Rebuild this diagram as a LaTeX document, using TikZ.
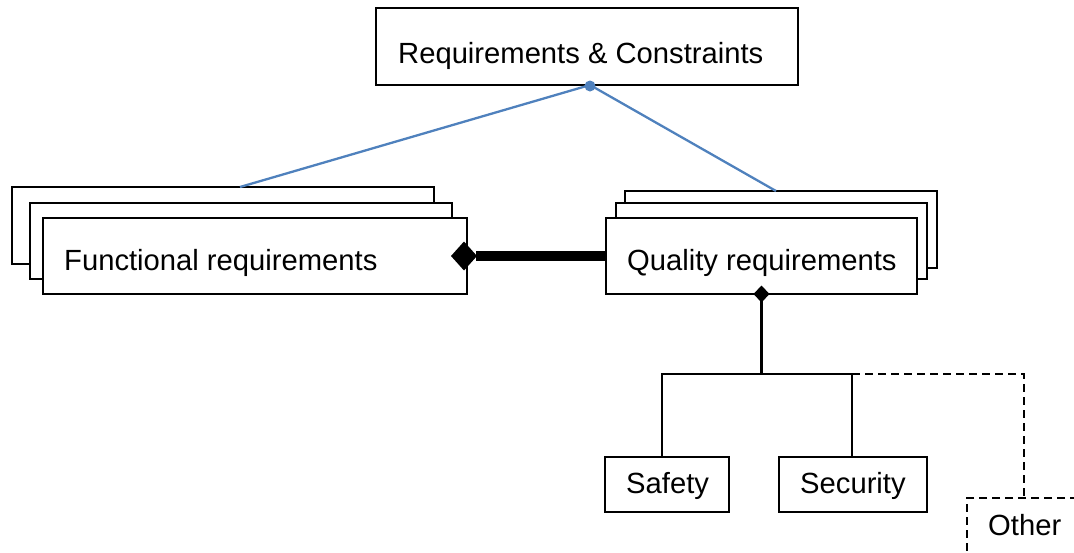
\documentclass[tikz,border=0pt]{standalone}
\usepackage{fontspec}
\setmainfont{Liberation Sans}
\usetikzlibrary{calc}
\definecolor{blueln}{RGB}{79,129,189}
\begin{document}
\begin{tikzpicture}[x=1pt,y=-1pt,
  box/.style={draw=black, line width=2.2pt, fill=white, rectangle, inner sep=0pt, outer sep=0pt},
  dbox/.style={box, dash pattern=on 8pt off 5pt, line width=1.7pt},
  lbl/.style={inner sep=0pt, font=\fontsize{29.2}{34}\selectfont},
  blueline/.style={draw=blueln, line width=2.3pt},
  tree/.style={line width=2.6pt},
  dashedline/.style={line width=1.7pt, dash pattern=on 8pt off 5pt}]
\useasboundingbox (0,0) rectangle (1074,552);
\clip (0,0) rectangle (1074,552);

% top box
\node[box, minimum width=422, minimum height=77, anchor=north west] (rc) at (376,8) {};
\node[lbl, anchor=base west] (rcl) at (398,63) {Requirements \& Constraints};

% functional stack
\node[box, minimum width=422, minimum height=77, anchor=north west] (fb3) at (12,187) {};
\node[box, minimum width=422, minimum height=76, anchor=north west] (fb2) at (30,203) {};
\node[box, minimum width=424, minimum height=76, anchor=north west] (fr) at (43,218) {};
\node[lbl, anchor=base west] (frl) at (64,270) {Functional requirements};

% quality stack
\node[box, minimum width=312, minimum height=77, anchor=north west] (qb3) at (625,191) {};
\node[box, minimum width=311, minimum height=76, anchor=north west] (qb2) at (616,203) {};
\node[box, minimum width=311, minimum height=76, anchor=north west] (qr) at (606,218) {};
\node[lbl, anchor=base west] (qrl) at (627,270) {Quality requirements};

% blue connectors
\draw[blueline] ($(rc.south)+(3,0)$) -- ($(fb3.north)+(17,0)$);
\draw[blueline] ($(rc.south)+(3,0)$) -- ($(qb3.north)+(-5,0)$);
\fill[blueln] ($(rc.south)+(3,1)$) circle (5.5);

% composition between functional and quality
\coordinate (fd) at ($(fr.east)+(-3,0)$);
\draw[line width=10pt] ($(fd)+(12,0)$) -- (qr.west);
\fill (fd) ++(-13,0) -- ++(13,-14.5) -- ++(13,14.5) -- ++(-13,14.5) -- cycle;

% sub-qualities
\node[box, minimum width=124, minimum height=55, anchor=north west] (sa) at (605,457) {};
\node[lbl, anchor=base west] (sal) at (626,493) {Safety};
\node[box, minimum width=148, minimum height=55, anchor=north west] (se) at (779,457) {};
\node[lbl, anchor=base west] (sel) at (800,493) {Security};
\node[dbox, minimum width=160, minimum height=90, anchor=north west] (ot) at (967,498) {};
\node[lbl, anchor=base west] (otl) at (988,535) {Other};

\coordinate (jn) at ($(qr.south)+(0,80)$);
\coordinate (sej) at ($(se.north)+(-1,0)$);
\coordinate (saj) at ($(sa.north)+(-5,0)$);
\draw[tree] (qr.south) -- (jn);
\draw[tree] (saj) |- (jn) -| (sej);
\draw[dashedline] (sej |- jn) -| ($(ot.north west)+(57,0)$);
\fill (qr.south) ++(-8,0) -- ++(8,-8.5) -- ++(8,8.5) -- ++(-8,8.5) -- cycle;
\end{tikzpicture}
\end{document}
